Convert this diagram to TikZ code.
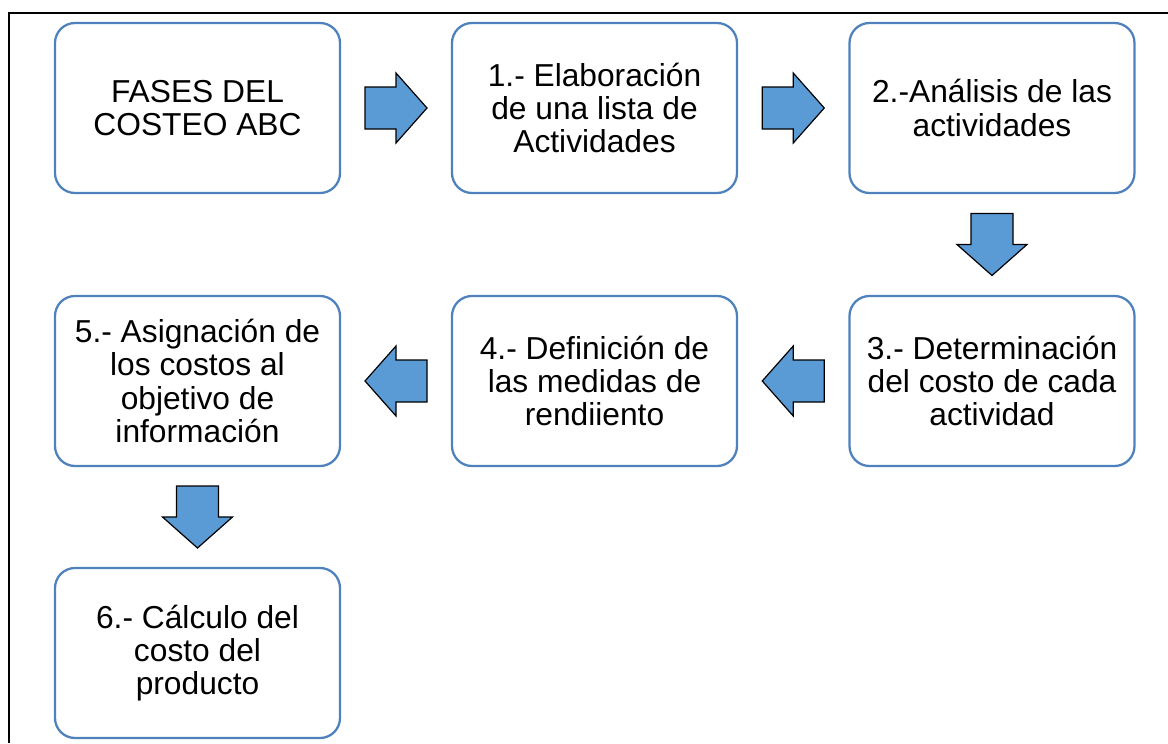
\documentclass[tikz,border=0pt]{standalone}
\usepackage{fontspec}
\setmainfont{Liberation Sans}
\usetikzlibrary{calc}
\definecolor{boxblue}{RGB}{79,129,189}
\definecolor{arrowblue}{RGB}{91,155,213}
\tikzset{
  fase/.style={draw=boxblue, line width=1.7pt, fill=white, rounded corners=15pt,
    minimum width=213.75pt, minimum height=127.5pt, inner sep=0pt, align=center,
    font=\fontsize{23.8}{25}\selectfont},
  flecha/.pic={
    \draw[line width=0.9pt, fill=arrowblue] (-31,-21) -- (0,-21) -- (0,-35) -- (31,0) -- (0,35) -- (0,21) -- (-31,21) -- cycle;}
}

\begin{document}
\begin{tikzpicture}[x=0.75pt, y=-0.75pt]
    \useasboundingbox (0,0) rectangle (1168,743);

    % Frame (top and left only)
    \draw[line width=1.5pt] (1168,13) -- (9,13) -- (9,743);

    % First row
    \node[fase] (b0) at (197.5,108) {FASES DEL\\COSTEO ABC};
    \node[fase] (b1) at (594.5,108) {1.- Elaboración\\de una lista de\\Actividades};
    \node[fase] (b2) at (992,108) {2.-Análisis de las\\actividades};

    % Second row
    \node[fase] (b3) at (992,381) {3.- Determinación\\del costo de cada\\actividad};
    \node[fase] (b4) at (594.5,381) {4.- Definición de\\las medidas de\\rendiiento};
    \node[fase] (b5) at (197.5,381) {5.- Asignación de\\los costos al\\objetivo de\\información};

    % Last row
    \node[fase] (b6) at (197.5,653) {6.- Cálculo del\\costo del\\producto};

    % Block arrows between phases
    \foreach \a/\b/\ang in {b0.east/b1.west/0, b1.east/b2.west/0, b2.south/b3.north/-90,
                            b3.west/b4.east/180, b4.west/b5.east/180, b5.south/b6.north/-90}
        \pic[rotate=\ang] at ($(\a)!0.5!(\b)$) {flecha};
\end{tikzpicture}
\end{document}
